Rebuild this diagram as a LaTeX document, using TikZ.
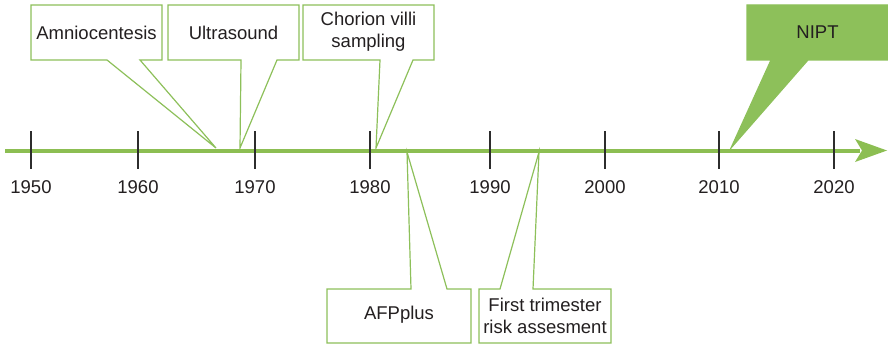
\documentclass[tikz,border=0pt]{standalone}
\usepackage{fontspec}
\setmainfont{Liberation Sans}
\definecolor{axisgreen}{RGB}{140,190,82}
\definecolor{boxgreen}{RGB}{141,192,90}
\definecolor{txt}{RGB}{35,31,32}
\definecolor{tickgray}{RGB}{45,45,45}
\begin{document}
\begin{tikzpicture}[x=1pt,y=-1pt,
  callout/.style={draw=boxgreen, line width=1.2pt, fill=white, line join=miter},
  calloutfilled/.style={draw=boxgreen, line width=1.2pt, fill=boxgreen, line join=miter},
  lbl/.style={text=txt, font=\fontsize{18.5}{22}\selectfont, align=center, inner sep=0pt},
  tickline/.style={draw=tickgray, line width=1.2pt},
  axisline/.style={draw=axisgreen, line width=4.5pt}]
\useasboundingbox (0,0) rectangle (888,345);
% tips of the callouts (on the axis)
\coordinate (tA) at (216,148);
\coordinate (tU) at (240,148);
\coordinate (tC) at (376,148);
\coordinate (tN) at (731,148);
\coordinate (tF) at (407,152);
\coordinate (tT) at (539,152);
% callout shapes
\path[callout] (31,5) -- (162,5) -- (162,60) -- (140,60) -- (tA) -- (107,60) -- (31,60) -- cycle;
\path[callout] (168,5) -- (299,5) -- (299,60) -- (277,60) -- (tU) -- (241,60) -- (168,60) -- cycle;
\path[callout] (303,5) -- (434,5) -- (434,60) -- (413,60) -- (tC) -- (380,60) -- (303,60) -- cycle;
\path[calloutfilled] (747,5) -- (889,5) -- (889,60) -- (808,60) -- (tN) -- (771,60) -- (747,60) -- cycle;
\path[callout] (327,289) -- (411,289) -- (tF) -- (447,289) -- (471,289) -- (471,343) -- (327,343) -- cycle;
\path[callout] (479,289) -- (500,289) -- (tT) -- (533,289) -- (611,289) -- (611,343) -- (479,343) -- cycle;
% callout texts
\node[lbl] (amnio) at (96.5,33) {Amniocentesis};
\node[lbl] (ultra) at (233.5,33) {Ultrasound};
\node[lbl] (chorion) at (368.5,32) {Chorion villi\\sampling};
\node[lbl] (nipt) at (817.5,32) {NIPT};
\node[lbl] (afp) at (399,315) {AFPplus};
\node[lbl] (first) at (545,316) {First trimester\\risk assesment};
% axis
\coordinate (axstart) at (5,151);
\coordinate (axend) at (860,151);
\draw[axisline] (axstart) -- (axend);
\fill[axisgreen] (855,139) -- (887,150.5) -- (855,162) -- (862,150.5) -- cycle;
% ticks and years
\foreach \x/\yr in {31/1950,138/1960,255/1970,370/1980,490/1990,605/2000,719/2010,834/2020}{
  \draw[tickline] (\x,131) -- (\x,169);
  \node[lbl] (y\yr) at (\x,187) {\yr};
}
\end{tikzpicture}
\end{document}
